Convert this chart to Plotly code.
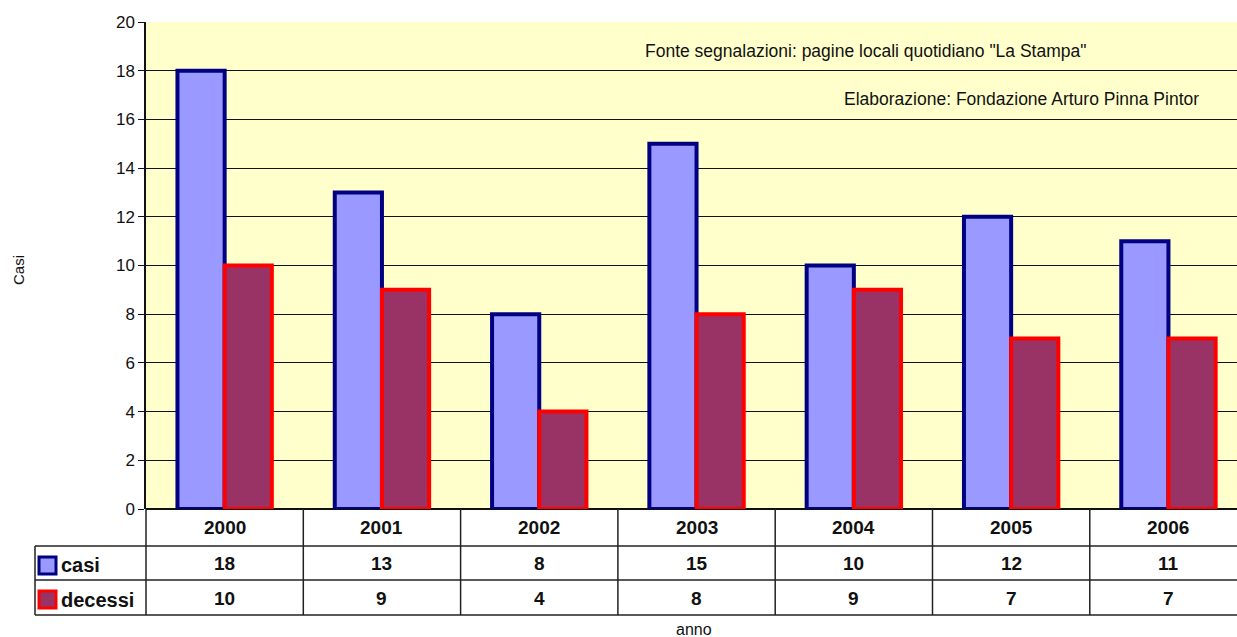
import plotly.graph_objects as go

years = ["2000", "2001", "2002", "2003", "2004", "2005", "2006"]
casi = [18, 13, 8, 15, 10, 12, 11]
decessi = [10, 9, 4, 8, 9, 7, 7]
y_ticks = list(range(0, 21, 2))

W, H = 1237, 637
L, T, B_PX = 146, 22, 509
plot_w = W - L
plot_h = B_PX - T
cat_w = 157.3


def py(Y):
    return (B_PX - Y) / plot_h


def px(X):
    return (X - L) / plot_w


FONT = "Liberation Sans, Arial, sans-serif"
INK = "#111111"

fig = go.Figure()
fig.add_trace(go.Bar(x=years, y=casi, name="casi",
                     marker=dict(color="#9999FF", line=dict(color="#000080", width=4))))
fig.add_trace(go.Bar(x=years, y=decessi, name="decessi",
                     marker=dict(color="#993366", line=dict(color="#FF0000", width=4))))

x_right = -0.5 + plot_w / cat_w

shapes = []
line = dict(color="#222222", width=1.5)
for Y in [546, 580, 615]:
    shapes.append(dict(type="line", xref="paper", yref="paper", x0=px(35), x1=1.0,
                       y0=py(Y), y1=py(Y), line=line))
shapes.append(dict(type="line", xref="paper", yref="paper", x0=0, x1=0,
                   y0=py(509), y1=py(615), line=line))
shapes.append(dict(type="line", xref="paper", yref="paper", x0=px(35), x1=px(35),
                   y0=py(546), y1=py(615), line=line))
for i in range(len(years) - 1):
    shapes.append(dict(type="line", xref="x", yref="paper", x0=i + 0.5, x1=i + 0.5,
                       y0=py(509), y1=py(615), line=line))
shapes.append(dict(type="rect", xref="paper", yref="paper", x0=px(39), x1=px(56),
                   y0=py(557), y1=py(574), fillcolor="#9999FF",
                   line=dict(color="#000080", width=3)))
shapes.append(dict(type="rect", xref="paper", yref="paper", x0=px(39), x1=px(56),
                   y0=py(591), y1=py(608), fillcolor="#993366",
                   line=dict(color="#FF0000", width=3)))

annotations = []
bold = dict(family=FONT, size=19, color=INK)
for i, yr in enumerate(years):
    annotations.append(dict(x=i, xref="x", y=py(527), yref="paper", text="<b>%s</b>" % yr,
                            showarrow=False, font=bold, xanchor="center", yanchor="middle"))
    annotations.append(dict(x=i, xref="x", y=py(563), yref="paper", text="<b>%d</b>" % casi[i],
                            showarrow=False, font=bold, xanchor="center", yanchor="middle"))
    annotations.append(dict(x=i, xref="x", y=py(598), yref="paper", text="<b>%d</b>" % decessi[i],
                            showarrow=False, font=bold, xanchor="center", yanchor="middle"))
annotations.append(dict(x=px(59), xref="paper", y=py(565), yref="paper", text="<b>casi</b>",
                        showarrow=False, font=dict(family=FONT, size=20, color=INK),
                        xanchor="left", yanchor="middle"))
annotations.append(dict(x=px(59), xref="paper", y=py(600), yref="paper", text="<b>decessi</b>",
                        showarrow=False, font=dict(family=FONT, size=20, color=INK),
                        xanchor="left", yanchor="middle"))
annotations.append(dict(x=px(694), xref="paper", y=py(629), yref="paper", text="anno",
                        showarrow=False, font=dict(family=FONT, size=16, color=INK),
                        xanchor="center", yanchor="middle"))
annotations.append(dict(x=px(18), xref="paper", y=py(270), yref="paper", text="Casi",
                        showarrow=False, textangle=-90,
                        font=dict(family=FONT, size=15, color=INK),
                        xanchor="center", yanchor="middle"))
annotations.append(dict(x=px(1088), xref="paper", y=py(51), yref="paper",
                        text='Fonte segnalazioni: pagine locali quotidiano "La Stampa"',
                        showarrow=False, font=dict(family=FONT, size=17.5, color=INK),
                        xanchor="right", yanchor="middle"))
annotations.append(dict(x=px(1201), xref="paper", y=py(99), yref="paper",
                        text="Elaborazione: Fondazione Arturo Pinna Pintor",
                        showarrow=False, font=dict(family=FONT, size=17.5, color=INK),
                        xanchor="right", yanchor="middle"))

fig.update_layout(
    width=W, height=H,
    margin=dict(l=L, r=0, t=T, b=H - B_PX, pad=0),
    paper_bgcolor="white",
    plot_bgcolor="#FFFFCC",
    barmode="group", bargap=0.4, bargroupgap=0,
    showlegend=False,
    shapes=shapes,
    annotations=annotations,
    font=dict(family=FONT, color=INK),
)
fig.update_xaxes(type="category", range=[-0.5, x_right], showticklabels=False,
                 showgrid=False, zeroline=False, showline=False, ticks="")
fig.update_yaxes(range=[0, 20], tickvals=y_ticks, ticks="outside", ticklen=6,
                 tickcolor=INK, showline=True, linecolor=INK, linewidth=1.5,
                 showgrid=True, gridcolor=INK, gridwidth=1, zeroline=True,
                 zerolinecolor=INK, zerolinewidth=1.5,
                 tickfont=dict(family=FONT, size=17, color=INK))

fig.write_html(
    "out.html",
    config={"displayModeBar": False},
    post_script="document.body.style.margin='0';document.body.style.overflow='hidden';",
)
